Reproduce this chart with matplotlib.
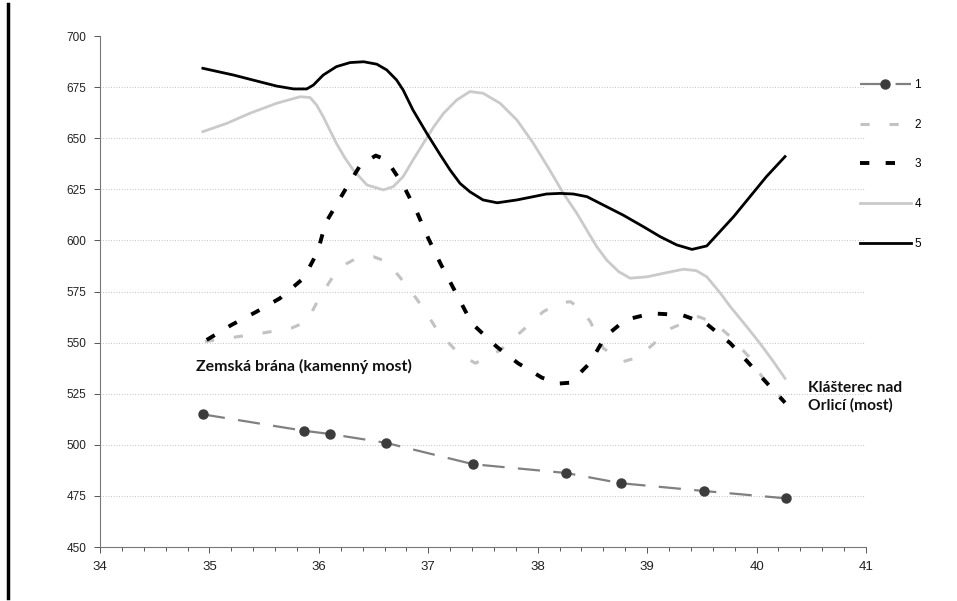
import matplotlib
matplotlib.use("Agg")
import matplotlib.pyplot as plt
from matplotlib.lines import Line2D

# ---------------- data ----------------
s1_x = [34.94, 35.86, 36.10, 36.61, 37.41, 38.26, 38.76, 39.52, 40.27]
s1_y = [514.9, 506.9, 505.3, 501.0, 490.5, 486.2, 481.2, 477.4, 473.8]

s2_x = [34.96, 35.22, 35.49, 35.75, 35.89, 36.01, 36.13, 36.25, 36.345, 36.50, 36.62,
        36.80, 36.955, 37.09, 37.275, 37.43, 37.66, 37.85, 38.05, 38.20, 38.30, 38.40,
        38.48, 38.60, 38.78, 38.90, 39.03, 39.22, 39.47, 39.62, 39.76, 39.93, 40.06, 40.245]
s2_y = [550.5, 552.6, 554.7, 557.1, 560.3, 572.5, 582.3, 588.5, 591.3, 592.0, 589.6,
        578.2, 566.8, 555.4, 544.8, 539.9, 546.4, 555.4, 565.1, 569.5, 570.0, 566.0,
        560.3, 547.2, 540.7, 542.5, 548.0, 557.0, 562.7, 559.5, 552.9, 543.1, 532.5, 521.9]

s3_x = [34.975, 35.20, 35.43, 35.645, 35.86, 35.99, 36.06, 36.24, 36.38, 36.52, 36.62,
        36.77, 36.895, 37.00, 37.11, 37.23, 37.35, 37.43, 37.625, 37.82, 38.04, 38.20,
        38.30, 38.48, 38.616, 38.80, 39.04, 39.32, 39.545, 39.76, 39.93, 40.11, 40.26]
s3_y = [551.3, 558.6, 565.1, 571.7, 581.5, 594.5, 608.4, 624.7, 636.9, 641.5, 639.3,
        627.1, 614.0, 601.0, 588.8, 576.6, 564.3, 557.8, 548.0, 539.9, 532.8, 530.0,
        530.4, 540.2, 552.9, 561.1, 564.3, 563.5, 559.1, 549.7, 539.9, 529.3, 520.6]

s4_x = [34.94, 35.16, 35.37, 35.615, 35.83, 35.92, 35.98, 36.04, 36.10, 36.16, 36.24,
        36.315, 36.44, 36.59, 36.68, 36.77, 36.86, 36.955, 37.05, 37.14, 37.26, 37.38,
        37.50, 37.656, 37.81, 37.96, 38.11, 38.235, 38.357, 38.448, 38.54, 38.63, 38.74,
        38.845, 39.00, 39.15, 39.33, 39.45, 39.545, 39.67, 39.76, 39.91, 40.03, 40.15,
        40.26]
s4_y = [653.2, 657.3, 662.2, 667.1, 670.3, 669.9, 666.2, 660.5, 654.0, 647.5, 640.2,
        634.4, 627.1, 624.7, 626.3, 631.2, 639.3, 647.5, 655.6, 662.2, 668.7, 672.8,
        672.0, 667.1, 658.9, 647.5, 634.4, 623.0, 613.3, 605.1, 596.9, 590.4, 584.7,
        581.5, 582.2, 583.9, 585.9, 585.2, 582.2, 574.1, 567.6, 557.8, 549.7, 541.0,
        532.5]

s5_x = [34.94, 35.22, 35.46, 35.615, 35.77, 35.889, 35.95, 36.04, 36.16, 36.285, 36.41,
        36.53, 36.62, 36.71, 36.77, 36.86, 36.986, 37.11, 37.20, 37.29, 37.38, 37.50,
        37.63, 37.81, 37.96, 38.08, 38.205, 38.326, 38.45, 38.60, 38.78, 38.966, 39.12,
        39.27, 39.41, 39.545, 39.636, 39.79, 39.94, 40.09, 40.26]
s5_y = [684.2, 680.9, 677.6, 675.5, 674.1, 674.1, 676.0, 680.9, 685.0, 687.0, 687.4,
        686.2, 683.4, 678.5, 673.6, 663.8, 652.4, 641.8, 634.4, 627.9, 623.8, 619.8,
        618.4, 619.8, 621.4, 622.7, 623.0, 622.7, 621.4, 617.3, 612.4, 606.7, 601.8,
        597.8, 595.6, 597.3, 602.6, 611.6, 621.4, 631.2, 641.0]

series_labels = ["1", "2", "3", "4", "5"]
x_ticks = [34, 35, 36, 37, 38, 39, 40, 41]
y_ticks = [450, 475, 500, 525, 550, 575, 600, 625, 650, 675, 700]

annot_left = "Zemská brána (kamenný most)"
annot_right = "Klášterec nad\nOrlicí (most)"

# ---------------- figure ----------------
W, H = 957, 601
fig = plt.figure(figsize=(W / 100, H / 100), dpi=100)
fig.patch.set_facecolor("white")

def fx(px):
    return px / W

def fy(py):
    return 1 - py / H

ax = fig.add_axes([fx(100), fy(547), fx(866) - fx(100), fy(36) - fy(547)])
ax.set_xlim(34, 41)
ax.set_ylim(450, 700)

for side in ["top", "right"]:
    ax.spines[side].set_visible(False)
for side in ["left", "bottom"]:
    ax.spines[side].set_color("#777777")
    ax.spines[side].set_linewidth(0.8)

# grid (dotted)
for v in y_ticks[1:-1]:
    ax.axhline(v, color="#b0b0b0", lw=0.6, ls=(0, (1, 2.2)), zorder=0)

ax.set_xticks(x_ticks)
ax.set_xticks([34 + 0.2 * i for i in range(36)], minor=True)
ax.set_yticks(y_ticks)
ax.tick_params(axis="both", which="both", direction="out", colors="#555555",
               labelcolor="#222222")
ax.tick_params(axis="x", which="major", length=4, width=0.7, pad=6)
ax.tick_params(axis="x", which="minor", length=3, width=0.7)
ax.tick_params(axis="y", which="major", length=4, width=0.7, pad=6)
for lab in ax.get_yticklabels():
    lab.set_fontfamily(["Liberation Sans", "DejaVu Sans"])
    lab.set_fontsize(8.5)
for lab in ax.get_xticklabels():
    lab.set_fontfamily(["Liberation Sans Narrow", "Liberation Sans", "DejaVu Sans"])
    lab.set_fontsize(9.5)

# ---------------- series ----------------
l1, = ax.plot(s1_x, s1_y, color="#808080", lw=1.6, dashes=(10, 6),
              marker="o", markersize=6.5, markerfacecolor="#3c3c3c",
              markeredgecolor="#3c3c3c", zorder=3)
l2, = ax.plot(s2_x, s2_y, color="#c2c2c2", lw=2.2, dashes=(3.0, 6.5), zorder=2,
              solid_joinstyle="round")
l3, = ax.plot(s3_x, s3_y, color="#000000", lw=2.8, dashes=(2.4, 4.2), zorder=3)
l4, = ax.plot(s4_x, s4_y, color="#cacaca", lw=2.0, zorder=2,
              solid_joinstyle="round")
l5, = ax.plot(s5_x, s5_y, color="#000000", lw=2.0, zorder=4,
              solid_joinstyle="round")

# ---------------- legend ----------------
leg = fig.legend([l1, l2, l3, l4, l5], series_labels, loc="upper left",
                 bbox_to_anchor=(fx(860), fy(79)), frameon=False,
                 handlelength=4.3, handletextpad=0.3, labelspacing=2.35,
                 borderpad=0, borderaxespad=0, numpoints=1,
                 prop={"family": ["Liberation Sans", "DejaVu Sans"], "size": 8.5})

# ---------------- annotations ----------------
ax.text(35.865, 538.5, annot_left, fontsize=11.4, fontweight="bold",
        family=["Lato", "DejaVu Sans"], ha="center", va="center", color="#111111")
ax.text(40.47, 523.4, annot_right, fontsize=11.2, fontweight="bold",
        family=["Lato", "DejaVu Sans"], ha="left", va="center", color="#111111",
        linespacing=1.3)

# frame around the figure (scan border)
fig.add_artist(Line2D([fx(8), fx(8)], [fy(598), fy(4)], color="black", lw=2.5,
                      transform=fig.transFigure))

fig.savefig("out.png", dpi=100)
